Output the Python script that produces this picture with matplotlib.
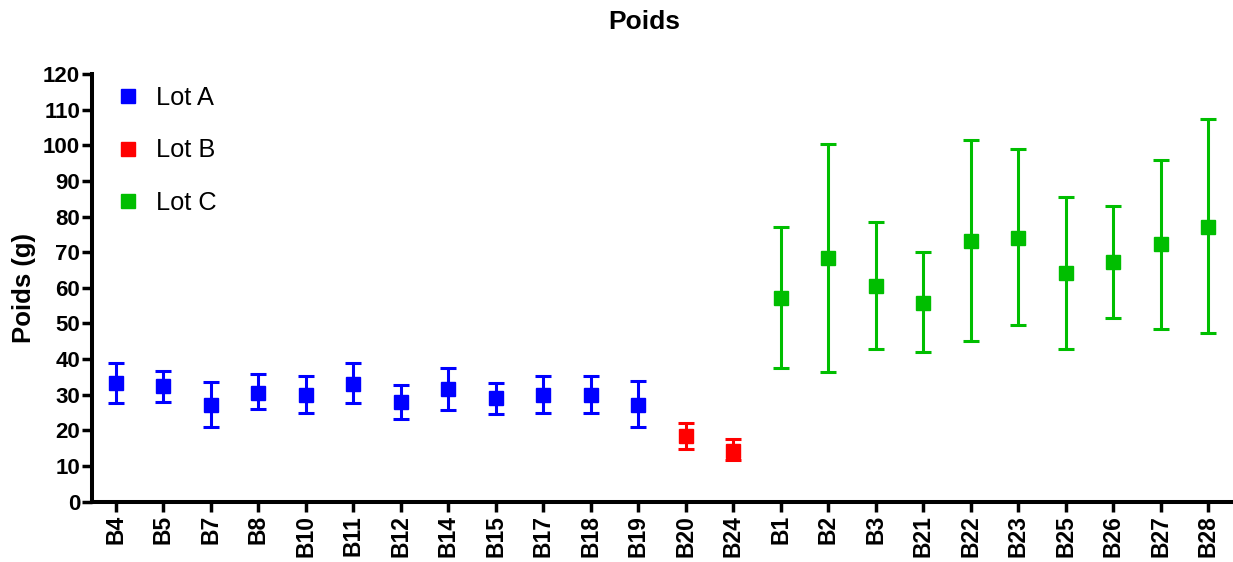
import matplotlib
matplotlib.use("Agg")
import matplotlib.pyplot as plt
from matplotlib.lines import Line2D
import numpy as np

plt.rcParams['font.family'] = ['Liberation Sans', 'DejaVu Sans']

categories = ["B4", "B5", "B7", "B8", "B10", "B11", "B12", "B14", "B15", "B17", "B18", "B19",
              "B20", "B24",
              "B1", "B2", "B3", "B21", "B22", "B23", "B25", "B26", "B27", "B28"]
groups = ["A"] * 12 + ["B"] * 2 + ["C"] * 10

means = [33.4, 32.6, 27.1, 30.6, 29.9, 33.0, 28.1, 31.6, 29.0, 29.9, 29.9, 27.2,
         18.4, 14.3,
         57.1, 68.3, 60.6, 55.8, 73.1, 74.0, 64.3, 67.2, 72.2, 77.2]
upper = [38.8, 36.6, 33.5, 35.8, 35.4, 38.8, 32.7, 37.6, 33.4, 35.3, 35.3, 34.0,
         22.0, 17.5,
         77.2, 100.3, 78.5, 70.0, 101.6, 99.0, 85.6, 82.9, 95.9, 107.5]
lower = [27.6, 28.1, 21.0, 25.9, 25.0, 27.8, 23.2, 25.7, 24.5, 25.0, 25.0, 20.9,
         14.8, 11.6,
         37.4, 36.5, 42.8, 41.9, 45.0, 49.5, 42.8, 51.6, 48.5, 47.2]

group_labels = {"A": "Lot A", "B": "Lot B", "C": "Lot C"}
group_colors = {"A": "#0000FF", "B": "#FF0000", "C": "#00BE00"}

fig = plt.figure(figsize=(12.33, 5.62), dpi=100)
ax = fig.add_axes([92 / 1233, 1 - 501.7 / 562, 1 - 92 / 1233, (501.7 - 74) / 562])

x = np.arange(len(categories))
means_a = np.array(means)
up_a = np.array(upper)
lo_a = np.array(lower)
grp = np.array(groups)

handles = []
for g in ["A", "B", "C"]:
    m = grp == g
    col = group_colors[g]
    ax.errorbar(x[m], means_a[m], yerr=[means_a[m] - lo_a[m], up_a[m] - means_a[m]],
                fmt='s', color=col, ecolor=col, markersize=9.5, elinewidth=2.2,
                capsize=5.8, capthick=2.2, linestyle='none', zorder=3)
    handles.append(Line2D([], [], marker='s', color=col, linestyle='none',
                          markersize=10, label=group_labels[g]))

ax.set_xlim(-0.5, len(categories) - 0.48)
ax.set_ylim(0, 120)
ax.set_yticks(np.arange(0, 121, 10))
ax.set_xticks(x)
ax.set_xticklabels(categories, rotation=90, fontweight='bold', fontsize=16.5)
for lab in ax.get_yticklabels():
    lab.set_fontweight('bold')
    lab.set_fontsize(16)

for s in ['top', 'right']:
    ax.spines[s].set_visible(False)
for s in ['left', 'bottom']:
    ax.spines[s].set_linewidth(2.9)
    ax.spines[s].set_color('black')
ax.tick_params(axis='both', length=7.5, width=2.5, color='black')
ax.tick_params(axis='y', pad=1)
ax.tick_params(axis='x', pad=2)

ax.set_ylabel("Poids (g)", fontweight='bold', fontsize=18.5, labelpad=5)

fig.text(644.5 / 1233, 1 - 22 / 562, "Poids", ha='center', va='center',
         fontweight='bold', fontsize=19)

leg = ax.legend(handles=handles, loc='upper left', bbox_to_anchor=(115 / 1233, 1 - 86 / 562),
                bbox_transform=fig.transFigure, frameon=False, fontsize=18.3,
                handlelength=1.0, handletextpad=0.62, labelspacing=1.12,
                borderpad=0, borderaxespad=0)

fig.savefig("out.png", dpi=100)
